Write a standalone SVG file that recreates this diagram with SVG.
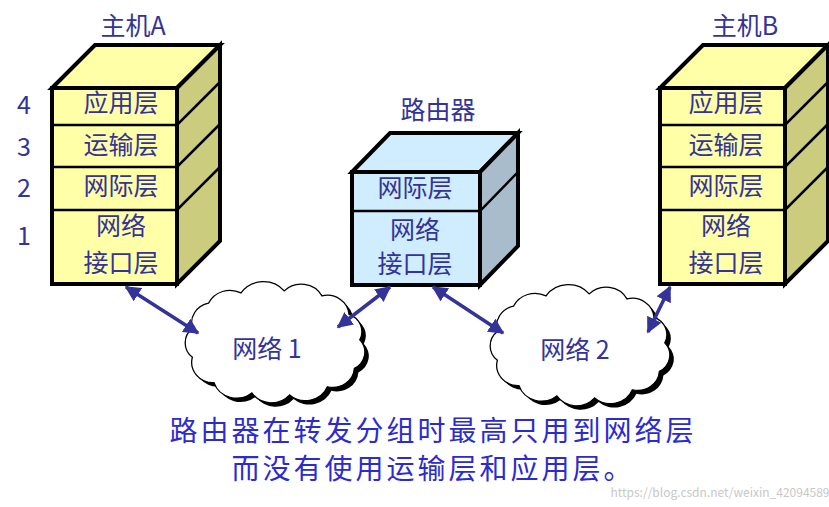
<svg xmlns="http://www.w3.org/2000/svg" width="829" height="507" viewBox="0 0 829 507">
<defs>
<style>
text{font-family:"Noto Sans CJK SC","Liberation Sans",sans-serif;fill:#333399;text-anchor:middle}
.l{font-size:25px}
.b{stroke:#000;stroke-width:4;stroke-linejoin:miter}
.y{fill:#ffffa8}.ys{fill:#cccc7f}.yt{fill:#ffffa8}
.c{fill:#d0ecff}.cs{fill:#a8bccc}
.ln{stroke:#000;stroke-width:2.5;fill:none}
.arr{stroke:#333399;stroke-width:3.5;fill:none;marker-start:url(#m);marker-end:url(#m)}
.cl{fill:#fff;stroke:#000;stroke-width:1.2}
.bt{font-size:28px;fill:#2b2bd0;letter-spacing:3px}
</style>
<marker id="m" viewBox="0 0 10 10" refX="9" refY="5" markerWidth="4.5" markerHeight="4.5" orient="auto-start-reverse"><path d="M0,0L10,5L0,10z" fill="#333399"/></marker>
<path id="cloud" d="M-70,-20 a20,20 0 0 1 15,-25 a22,22 0 0 1 30,-10 a25,25 0 0 1 40,-2 a22,22 0 0 1 35,5 a20,20 0 0 1 25,18 a18,18 0 0 1 10,25 a18,18 0 0 1 -5,28 a20,20 0 0 1 -25,18 a22,22 0 0 1 -35,8 a22,22 0 0 1 -35,-2 a22,22 0 0 1 -35,-10 a20,20 0 0 1 -20,-25 a18,18 0 0 1 0,-28z"/>
</defs>
<g id="hostA">
<text x="133" y="35" class="l">主机A</text>
<polygon class="b yt" points="52,88 95,45 220,45 177,88"/>
<polygon class="b ys" points="177,88 220,45 220,241 177,284"/>
<rect class="b y" x="52" y="88" width="125" height="196"/>
<path class="ln" d="M52,125H177L220,82M52,167H177L220,124M52,210H177L220,167"/>
<text x="121" y="112" class="l">应用层</text>
<text x="121" y="154" class="l">运输层</text>
<text x="121" y="195" class="l">网际层</text>
<text x="121" y="235" class="l">网络</text>
<text x="121" y="272" class="l">接口层</text>
<text x="24" y="114" class="l">4</text>
<text x="24" y="156" class="l">3</text>
<text x="24" y="197" class="l">2</text>
<text x="24" y="245" class="l">1</text>
</g>
<g id="router">
<text x="438" y="119" class="l">路由器</text>
<polygon class="b c" points="352,172 390,133 518,133 480,172"/>
<polygon class="b cs" points="480,172 518,133 518,246 480,285"/>
<rect class="b c" x="352" y="172" width="128" height="113"/>
<path class="ln" d="M352,211H480L518,172"/>
<text x="415" y="197" class="l">网际层</text>
<text x="415" y="239" class="l">网络</text>
<text x="415" y="273" class="l">接口层</text>
</g>
<g id="hostB">
<text x="745" y="35" class="l">主机B</text>
<polygon class="b yt" points="660,88 703,45 828,45 785,88"/>
<polygon class="b ys" points="785,88 828,45 828,241 785,284"/>
<rect class="b y" x="660" y="88" width="125" height="196"/>
<path class="ln" d="M660,125H785L828,82M660,167H785L828,124M660,210H785L828,167"/>
<text x="726" y="112" class="l">应用层</text>
<text x="726" y="154" class="l">运输层</text>
<text x="726" y="195" class="l">网际层</text>
<text x="726" y="235" class="l">网络</text>
<text x="726" y="272" class="l">接口层</text>
</g>
<g id="net1">
<use href="#cloud" transform="translate(272,353) scale(1.08,1.02)" fill="#000"/>
<use href="#cloud" transform="translate(268,349) scale(1.08,1.02)" class="cl"/>
<text x="267" y="358" class="l">网络 1</text>
</g>
<g id="net2">
<use href="#cloud" transform="translate(577,356) scale(1.08,1.02)" fill="#000"/>
<use href="#cloud" transform="translate(573,352) scale(1.08,1.02)" class="cl"/>
<text x="575" y="359" class="l">网络 2</text>
</g>
<g id="connectors">
<line class="arr" x1="126" y1="287" x2="198" y2="333"/>
<line class="arr" x1="390" y1="287" x2="338" y2="327"/>
<line class="arr" x1="433" y1="287" x2="503" y2="333"/>
<line class="arr" x1="670" y1="287" x2="648" y2="332"/>
</g>
<text x="433" y="441" class="bt">路由器在转发分组时最高只用到网络层</text>
<text x="433" y="479" class="bt">而没有使用运输层和应用层。</text>
<text x="720" y="497" style="font-size:12px;fill:#c8c8c8">https://blog.csdn.net/weixin_42094589</text>
</svg>
